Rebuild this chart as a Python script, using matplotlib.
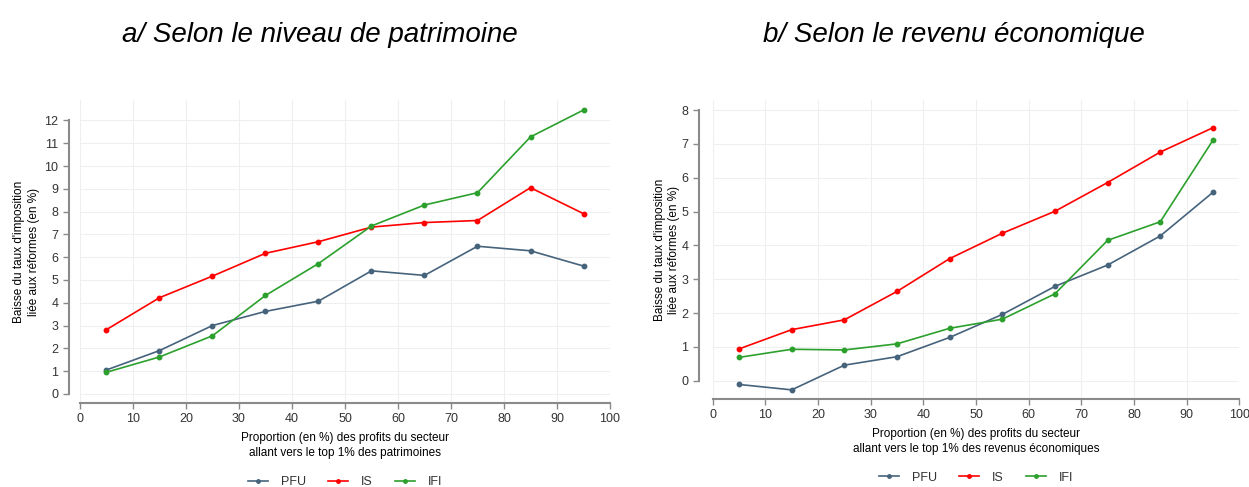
import matplotlib
matplotlib.use("Agg")
import matplotlib.pyplot as plt
from matplotlib.lines import Line2D

plt.rcParams.update({
    "font.family": ["Liberation Sans", "DejaVu Sans"],
    "font.size": 9,
    "text.color": "#333333",
})

# ── data ────────────────────────────────────────────────────────────────────
x = [5, 15, 25, 35, 45, 55, 65, 75, 85, 95]

pfu_patri = [1.05, 1.9, 3.0, 3.62, 4.07, 5.4, 5.2, 6.48, 6.28, 5.61]
is_patri = [2.82, 4.22, 5.17, 6.17, 6.68, 7.32, 7.52, 7.61, 9.05, 7.91]
ifi_patri = [0.95, 1.62, 2.55, 4.32, 5.72, 7.37, 8.29, 8.83, 11.28, 12.46]

pfu_rev = [-0.11, -0.27, 0.46, 0.71, 1.28, 1.96, 2.79, 3.42, 4.28, 5.57]
is_rev = [0.94, 1.51, 1.80, 2.64, 3.61, 4.36, 5.01, 5.86, 6.76, 7.48]
ifi_rev = [0.69, 0.93, 0.91, 1.09, 1.55, 1.82, 2.57, 4.15, 4.70, 7.11]

series_names = ["PFU", "IS", "IFI"]
COLORS = {"PFU": "#46637c", "IS": "#ff0000", "IFI": "#2ca02c"}

titles = ["a/ Selon le niveau de patrimoine", "b/ Selon le revenu économique"]
xlabels = [
    "Proportion (en %) des profits du secteur\nallant vers le top 1% des patrimoines",
    "Proportion (en %) des profits du secteur\nallant vers le top 1% des revenus économiques",
]
ylabel = "Baisse du taux d'imposition\nliée aux réformes (en %)"

# ── figure ──────────────────────────────────────────────────────────────────
fig = plt.figure(figsize=(12.49, 4.87), dpi=100)
ax1 = fig.add_axes([0.064, 0.1725, 0.4244, 0.6222])
ax2 = fig.add_axes([0.5706, 0.1807, 0.4216, 0.6140])

panels = [
    (ax1, [pfu_patri, is_patri, ifi_patri], (-0.4, 12.9), range(0, 13), 8, -0.076, 0.256),
    (ax2, [pfu_rev, is_rev, ifi_rev], (-0.54, 8.3), range(0, 9), 10, -0.062, 0.764),
]

for i, (ax, data, ylim, yticks, offset, ylab_x, title_x) in enumerate(panels):
    for name, vals in zip(series_names, data):
        ax.plot(x, vals, color=COLORS[name], linewidth=1.2, marker="o",
                markersize=3.2, label=name)

    ax.set_xlim(0, 100)
    ax.set_ylim(*ylim)
    ax.set_xticks(range(0, 101, 10))
    ax.set_yticks(list(yticks))
    ax.grid(True, color="#efefef", linewidth=0.8)
    ax.set_axisbelow(True)

    for s in ["top", "right"]:
        ax.spines[s].set_visible(False)
    ax.spines["left"].set_position(("outward", offset))
    ax.spines["left"].set_bounds(yticks[0], yticks[-1])
    ax.spines["bottom"].set_bounds(0, 100)
    for s in ["left", "bottom"]:
        ax.spines[s].set_color("#8a8a8a")
        ax.spines[s].set_linewidth(1.5)
    ax.tick_params(colors="#8a8a8a", labelcolor="#333333", length=4,
                   width=1, labelsize=9)

    ax.set_ylabel(ylabel, fontsize=8.5, linespacing=1.25)
    ax.yaxis.set_label_coords(ylab_x, 0.5)
    ax.set_xlabel(xlabels[i], fontsize=8.5, linespacing=1.3)
    ax.xaxis.labelpad = 5

    fig.text(title_x, 0.928, titles[i], fontsize=20, style="italic",
             color="#000000", ha="center", va="center")

    handles = [Line2D([], [], color=COLORS[n], linewidth=1.2, marker="o",
                      markersize=2.5) for n in series_names]
    ax.legend(handles, series_names, loc="upper center",
              bbox_to_anchor=(0.5, -0.205), ncol=3, frameon=False,
              handlelength=1.6, handletextpad=1.0, columnspacing=1.8,
              fontsize=9)

fig.savefig("out.png", dpi=100, facecolor="white")
